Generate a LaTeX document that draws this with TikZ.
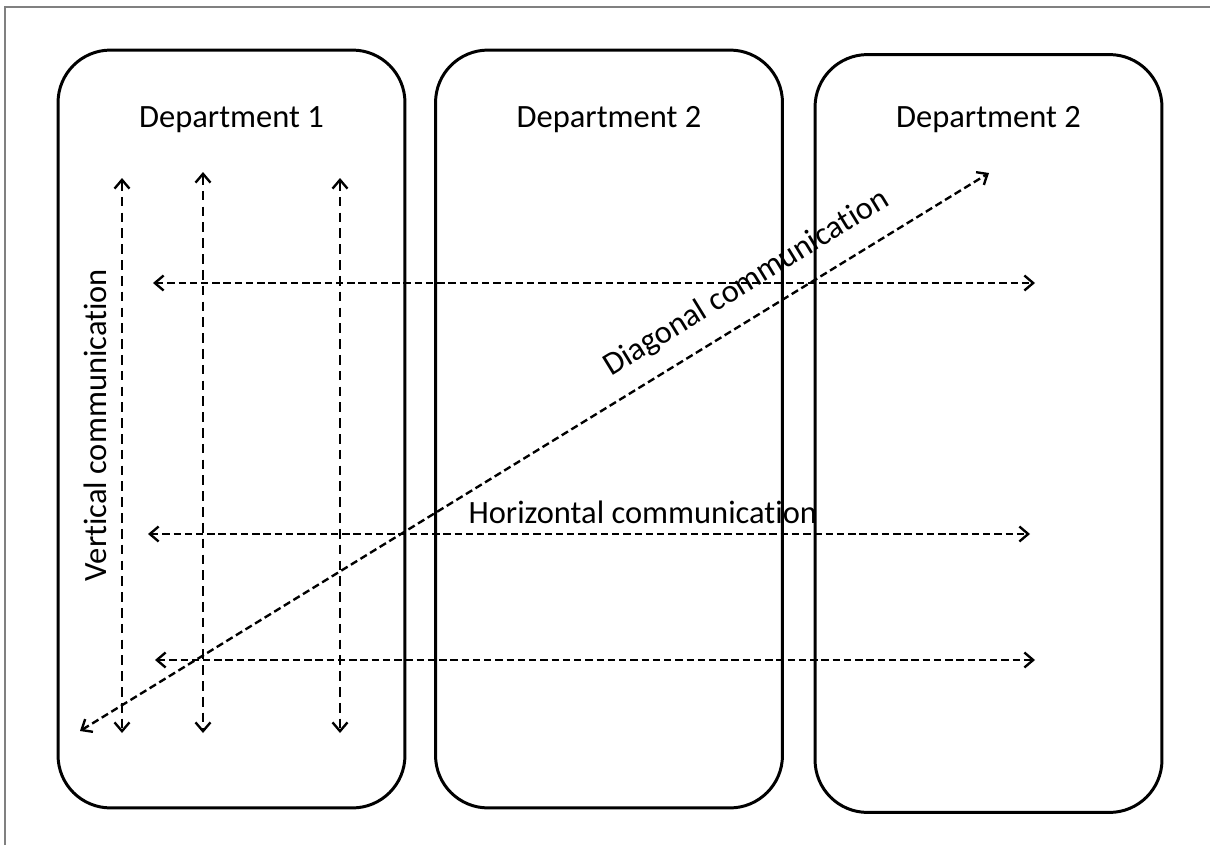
\documentclass[tikz,border=0pt]{standalone}
\usepackage{fontspec}
\setmainfont{Carlito}[Ligatures=NoCommon]
\usetikzlibrary{arrows.meta}

\begin{document}
\begin{tikzpicture}[x=0.02cm, y=-0.02cm,
    dept/.style={draw=black, line width=1.7pt, rounded corners=1.05cm, minimum width=6.94cm, minimum height=15.16cm},
    deptlabel/.style={inner sep=0pt, font=\fontsize{18.5}{22}\selectfont},
    comm/.style={dash pattern=on 4.2pt off 2.2pt, line width=1.35pt, {Straight Barb[length=5pt,width=8.5pt]}-{Straight Barb[length=5pt,width=8.5pt]}},
    vcomm/.style={comm, dash pattern=on 5.5pt off 3.5pt},
    commlabel/.style={inner sep=0pt, font=\fontsize{18.5}{22}\selectfont}]
  \useasboundingbox (0,0) rectangle (1210,845);
  \draw[gray, line width=0.6pt] (5,845) -- (5,7) -- (1210,7);

  % departments
  \node[dept] (dept1) at (231.5,429) {};
  \node[dept] (dept2) at (609,429) {};
  \node[dept] (dept3) at (988.5,433.5) {};
  \node[deptlabel] (lab1) at ([yshift=-1.43cm]dept1.north) {Department 1};
  \node[deptlabel] (lab2) at (dept2.north |- lab1) {Department 2};
  \node[deptlabel] (lab3) at (dept3.north |- lab1) {Department 2};

  % vertical
  \foreach \n/\x/\ytop in {1/122/178, 2/203/172, 3/340/178}{
    \coordinate (vtop\n) at (\x,\ytop);
    \coordinate (vbot\n) at (\x,733);
    \draw[vcomm] (vtop\n) -- (vbot\n);
  }
  \node[commlabel, rotate=90] (vlabel) at (95,425) {Vertical communication};

  % horizontal
  \foreach \n/\xl/\xr/\y in {1/153/1035/283, 2/148/1030/534, 3/155/1035/660}{
    \coordinate (hleft\n) at (\xl,\y);
    \coordinate (hright\n) at (\xr,\y);
    \draw[comm] (hleft\n) -- (hright\n);
  }
  \path (hleft2) -- (hright2) node[commlabel, pos=0.561, above=5.5pt] (hlabel) {Horizontal communication};

  % diagonal
  \coordinate (dstart) at (80,731);
  \coordinate (dend) at (989,173);
  \draw[comm] (dstart) -- (dend) node[commlabel, sloped, pos=0.752, above=10pt] (dlabel) {Diagonal communication};
\end{tikzpicture}
\end{document}
